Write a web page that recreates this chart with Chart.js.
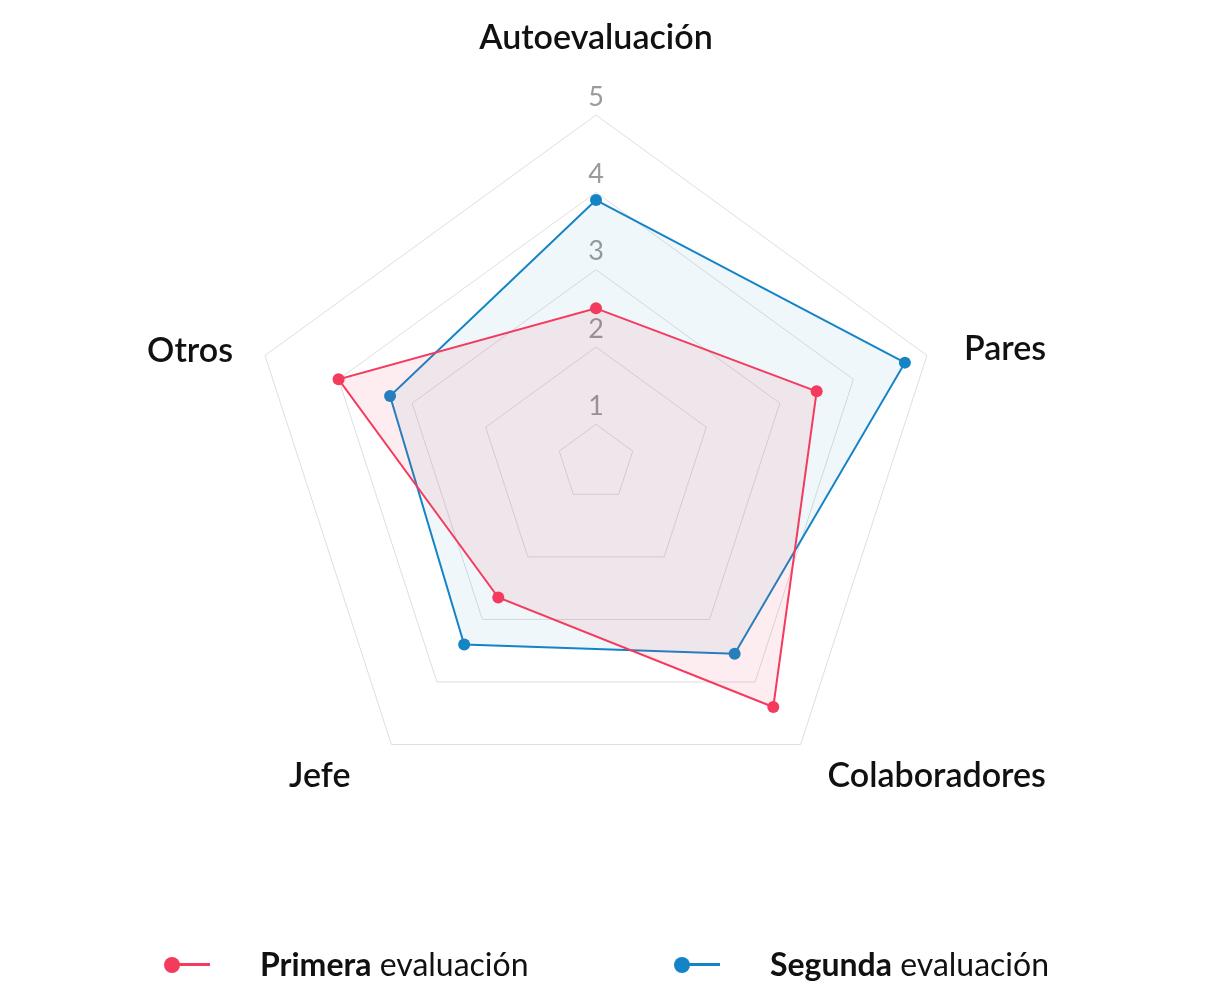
<!DOCTYPE html>
<html>
<head>
<meta charset="utf-8">
<script src="https://cdn.jsdelivr.net/npm/chart.js@4.4.1/dist/chart.umd.min.js"></script>
<style>
  html, body { margin: 0; padding: 0; background: #fff; }
  #wrap { position: relative; width: 1206px; height: 1003px; }
  #wrap canvas { width: 1206px !important; height: 1003px !important; }
  #legend { position: absolute; left: 0; top: 942px; width: 1206px; height: 46px; font-family: Lato, "Open Sans", sans-serif; font-size: 32px; color: #111; }
  .item { position: absolute; top: 0; height: 46px; }
  .mark { position: relative; width: 56px; height: 46px; }
  .mark .ln { position: absolute; left: 8px; top: 21px; width: 38px; height: 3px; }
  .mark .dot { position: absolute; left: 0; top: 15px; width: 16px; height: 16px; border-radius: 50%; }
  .txt { position: absolute; white-space: nowrap; top: 2px; }
  .txt b { font-weight: 700; }
</style>
</head>
<body>
<div id="wrap">
  <canvas id="c"></canvas>
  <div id="legend"></div>
</div>
<script>
const categories = ["Autoevaluación", "Pares", "Colaboradores", "Jefe", "Otros"];
const primera = [2.5, 3.5, 4.4, 2.65, 4.0];
const segunda = [3.9, 4.7, 3.55, 3.4, 3.3];
const tickLabels = [1, 2, 3, 4, 5];
const seriesNames = [["Primera", " evaluación"], ["Segunda", " evaluación"]];
const RED = "#f43b5e";
const BLUE = "#1484c7";

// label anchor offsets relative to each outer vertex (style, not data)
const labelStyle = [
  { align: "center", dx: 0, dy: -77 },
  { align: "left", dx: 37, dy: -6 },
  { align: "left", dx: 27, dy: 31 },
  { align: "right", dx: -41, dy: 31 },
  { align: "right", dx: -32, dy: -4 }
];

const drawLabels = {
  id: "drawLabels",
  beforeDatasetsDraw(chart) {
    const s = chart.scales.r;
    const ctx = chart.ctx;
    ctx.save();
    ctx.textBaseline = "middle";
    ctx.textAlign = "center";
    ctx.fillStyle = "#9b9b9b";
    ctx.font = "27px Lato, 'Open Sans', sans-serif";
    tickLabels.forEach(v => {
      const p = s.getPointPositionForValue(0, v);
      ctx.fillText(String(v), p.x, p.y - 18);
    });
    ctx.fillStyle = "#111";
    ctx.font = "600 34px Lato, 'Open Sans', sans-serif";
    categories.forEach((c, i) => {
      const p = s.getPointPositionForValue(i, s.max);
      const st = labelStyle[i];
      ctx.textAlign = st.align;
      ctx.fillText(c, p.x + st.dx, p.y + st.dy);
    });
    ctx.restore();
  }
};

new Chart(document.getElementById("c"), {
  type: "radar",
  data: {
    labels: categories,
    datasets: [
      { label: seriesNames[0].join(""), data: primera, borderColor: RED, backgroundColor: "rgba(244,59,94,0.09)",
        pointBackgroundColor: RED, pointBorderColor: RED, pointRadius: 6, pointBorderWidth: 0, borderWidth: 2, fill: true },
      { label: seriesNames[1].join(""), data: segunda, borderColor: BLUE, backgroundColor: "rgba(20,140,199,0.065)",
        pointBackgroundColor: BLUE, pointBorderColor: BLUE, pointRadius: 6, pointBorderWidth: 0, borderWidth: 2, fill: true }
    ]
  },
  options: {
    responsive: true,
    maintainAspectRatio: false,
    animation: false,
    layout: { padding: { left: 248, right: 262, top: 115, bottom: 192 } },
    plugins: { legend: { display: false }, tooltip: { enabled: false } },
    scales: {
      r: {
        min: 0.5,
        max: 5,
        ticks: { display: false, stepSize: 1 },
        grid: { color: "#dedede", lineWidth: 1 },
        angleLines: { display: false },
        pointLabels: { display: false }
      }
    }
  },
  plugins: [drawLabels]
});

// HTML legend
const legend = document.getElementById("legend");
const legendPos = [{ m: 164, t: 260 }, { m: 674, t: 770 }];
[RED, BLUE].forEach((col, i) => {
  const mk = document.createElement("div");
  mk.className = "item";
  mk.style.left = legendPos[i].m + "px";
  mk.innerHTML = '<div class="mark"><div class="ln" style="background:' + col + '"></div><div class="dot" style="background:' + col + '"></div></div>';
  legend.appendChild(mk);
  const tx = document.createElement("div");
  tx.className = "txt";
  tx.style.left = legendPos[i].t + "px";
  tx.innerHTML = "<b>" + seriesNames[i][0] + "</b>" + seriesNames[i][1];
  legend.appendChild(tx);
});
</script>
</body>
</html>
